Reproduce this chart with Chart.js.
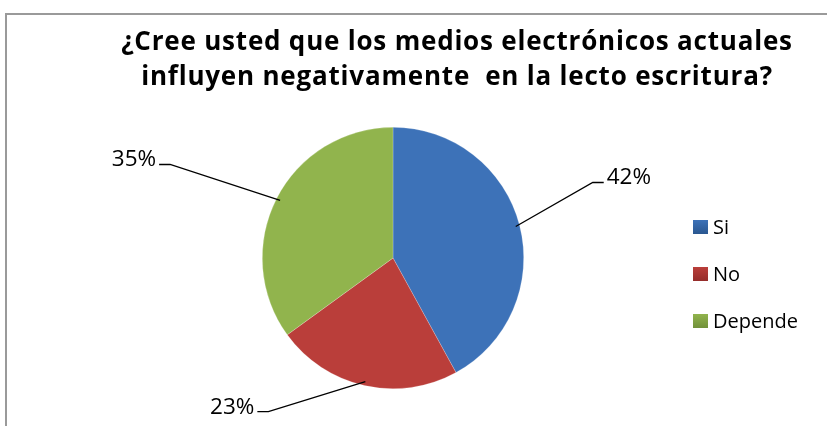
<!DOCTYPE html>
<html>
<head>
<meta charset="utf-8">
<script src="https://cdn.jsdelivr.net/npm/chart.js@4/dist/chart.umd.min.js"></script>
<style>
  html, body { margin: 0; padding: 0; background: #fff; }
  #wrap { width: 827px; height: 426px; position: relative; }
</style>
</head>
<body>
<div id="wrap"><canvas id="pieChart" width="827" height="426"></canvas></div>
<script>
const categories = ['Si', 'No', 'Depende'];
const percentValues = [42, 23, 35];
const titleLines = ['¿Cree usted que los medios electrónicos actuales', 'influyen negativamente  en la lecto escritura?'];

const baseColors = ['#3d72b8', '#ba3e3a', '#91b44d'];
const edgeColors = ['#2a5790', '#952d2b', '#71913a'];

// where each label's leader line bends, relative to the slice edge
const leaderOffsets = [[77, -44], [-97, 30], [-110, -36]];

// Radial shading so slices look a bit like the bevelled office pie
function sliceFill(context) {
    const chart = context.chart;
    const arc = chart.getDatasetMeta(0).data[context.dataIndex];
    if (!arc || !arc.outerRadius) return baseColors[context.dataIndex];
    const g = chart.ctx.createRadialGradient(arc.x, arc.y, 0, arc.x, arc.y, arc.outerRadius);
    g.addColorStop(0, baseColors[context.dataIndex]);
    g.addColorStop(0.84, baseColors[context.dataIndex]);
    g.addColorStop(1, edgeColors[context.dataIndex]);
    return g;
}

const frameAndTitle = {
    id: 'frameAndTitle',
    beforeDraw(chart) {
        const ctx = chart.ctx;
        ctx.save();
        ctx.fillStyle = '#fff';
        ctx.fillRect(0, 0, chart.width, chart.height);
        ctx.strokeStyle = '#9a9a9a';
        ctx.lineWidth = 2;
        ctx.strokeRect(6, 14, chart.width + 10, chart.height + 10);
        ctx.fillStyle = '#000';
        ctx.font = 'bold 26px "Open Sans", sans-serif';
        ctx.letterSpacing = '0.8px';
        ctx.textAlign = 'center';
        ctx.textBaseline = 'alphabetic';
        ctx.fillText(titleLines[0], 457, 50);
        ctx.fillText(titleLines[1], 457, 85);
        ctx.restore();
    }
};

const leaderLabels = {
    id: 'leaderLabels',
    afterDatasetsDraw(chart) {
        const ctx = chart.ctx;
        const arcs = chart.getDatasetMeta(0).data;
        ctx.save();
        ctx.strokeStyle = '#000';
        ctx.lineWidth = 1.3;
        ctx.fillStyle = '#000';
        ctx.font = '22.5px "Open Sans", sans-serif';
        ctx.textBaseline = 'alphabetic';
        arcs.forEach((arc, i) => {
            const mid = (arc.startAngle + arc.endAngle) / 2;
            const ex = arc.x + Math.cos(mid) * (arc.outerRadius - 4);
            const ey = arc.y + Math.sin(mid) * (arc.outerRadius - 4);
            const bx = ex + leaderOffsets[i][0];
            const by = ey + leaderOffsets[i][1];
            const dir = bx > arc.x ? 1 : -1;
            const tx = bx + dir * 11;
            ctx.beginPath();
            ctx.moveTo(ex, ey);
            ctx.lineTo(bx, by);
            ctx.lineTo(tx, by);
            ctx.stroke();
            ctx.textAlign = dir > 0 ? 'left' : 'right';
            ctx.fillText(percentValues[i] + '%', tx + dir * 3, by + 2);
        });
        ctx.restore();
    }
};

const sideLegend = {
    id: 'sideLegend',
    afterDraw(chart) {
        const ctx = chart.ctx;
        ctx.save();
        ctx.font = '20px "Open Sans", sans-serif';
        ctx.textAlign = 'left';
        ctx.textBaseline = 'alphabetic';
        categories.forEach((name, i) => {
            const y = 234 + i * 47;
            const g = ctx.createLinearGradient(0, y - 14, 0, y);
            g.addColorStop(0, baseColors[i]);
            g.addColorStop(1, edgeColors[i]);
            ctx.fillStyle = g;
            ctx.fillRect(693, y - 14, 15, 14);
            ctx.fillStyle = '#000';
            ctx.fillText(name, 713, y);
        });
        ctx.restore();
    }
};

new Chart(document.getElementById('pieChart'), {
    type: 'pie',
    data: {
        labels: categories,
        datasets: [{
            data: percentValues,
            backgroundColor: sliceFill,
            borderWidth: 0.6,
            borderColor: 'rgba(255,255,255,0.35)'
        }]
    },
    options: {
        responsive: false,
        animation: false,
        layout: { padding: { left: 262, right: 303, top: 127, bottom: 37 } },
        plugins: {
            legend: { display: false },
            title: { display: false },
            tooltip: { enabled: false }
        }
    },
    plugins: [frameAndTitle, leaderLabels, sideLegend]
});
</script>
</body>
</html>
